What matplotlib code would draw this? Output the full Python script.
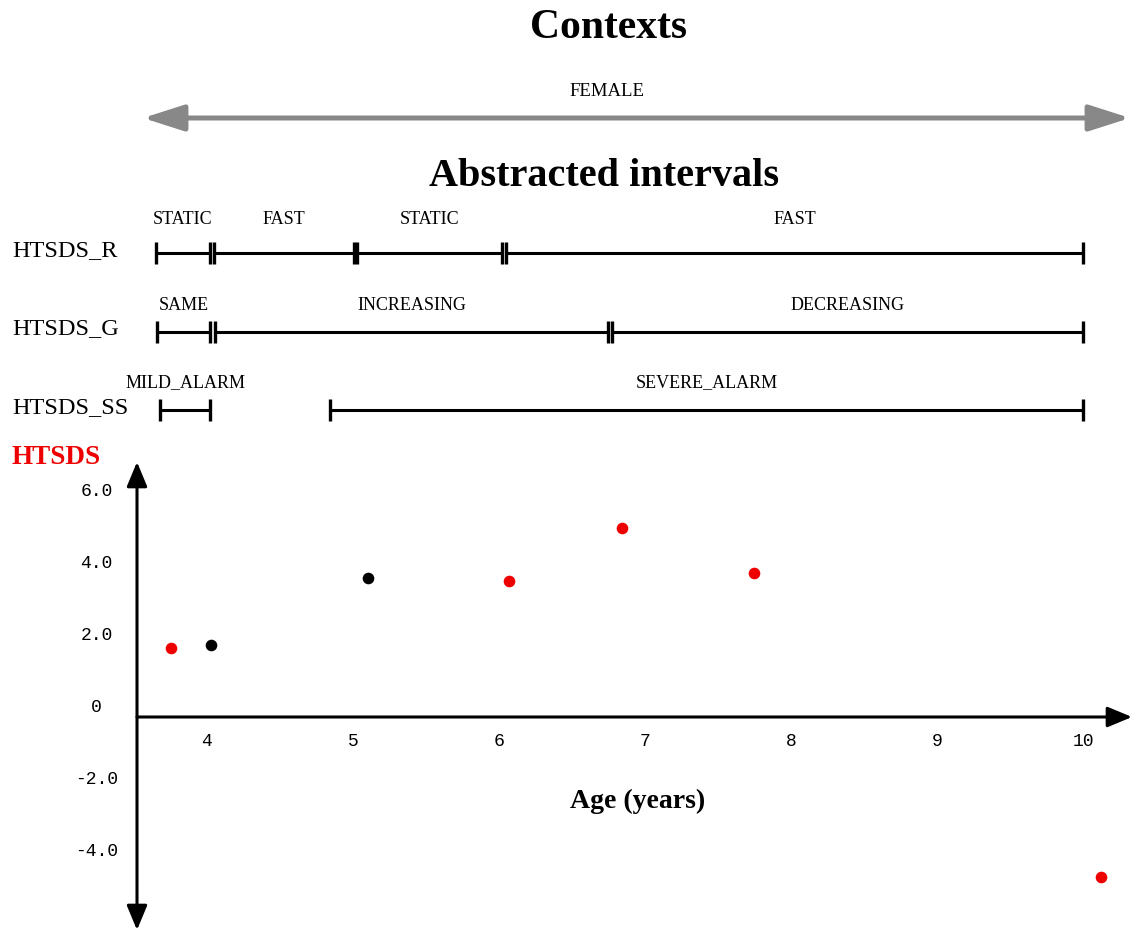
import matplotlib.pyplot as plt
from matplotlib.patches import FancyArrowPatch

plt.rcParams['font.family'] = ['Liberation Serif', 'DejaVu Serif']

# measured HTSDS values (red) and other observations (black)
ages_red = [3.75, 6.07, 6.84, 7.75, 10.12]
htsds_red = [1.92, 3.78, 5.25, 4.0, -4.44]
ages_black = [4.03, 5.10]
htsds_black = [2.0, 3.86]

x_ticks = [4, 5, 6, 7, 8, 9, 10]
y_ticks = [-4.0, -2.0, 0, 2.0, 4.0, 6.0]
y_tick_labels = ['-4.0', '-2.0', '0', '2.0', '4.0', '6.0']

# abstracted intervals (start age, end age, state)
row_names = ['HTSDS_R', 'HTSDS_G', 'HTSDS_SS']
r_start = [3.65, 4.05, 5.025, 6.05]
r_end = [4.02, 5.01, 6.02, 10.0]
r_state = ['STATIC', 'FAST', 'STATIC', 'FAST']
g_start = [3.66, 4.055, 6.774]
g_end = [4.02, 6.747, 10.0]
g_state = ['SAME', 'INCREASING', 'DECREASING']
ss_start = [3.68, 4.84]
ss_end = [4.02, 10.0]
ss_state = ['MILD_ALARM', 'SEVERE_ALARM']

context_name = 'FEMALE'

W, H = 1132, 930
fig = plt.figure(figsize=(W / 100, H / 100), dpi=100)

xlim = (4 - 70 / 146, 4 + 925 / 146)

# titles and context
fig.text(608 / W, 1 - 28 / H, 'Contexts', ha='center', va='center',
         fontsize=30, fontweight='bold')
fig.text(607 / W, 1 - 92 / H, context_name, ha='center', va='center', fontsize=13.5)
fig.add_artist(FancyArrowPatch(
    (143 / W, 1 - 118 / H), (1130 / W, 1 - 118 / H), transform=fig.transFigure,
    arrowstyle='<|-|>,head_length=1.0,head_width=0.32', mutation_scale=25,
    color='#888888', lw=3.6, shrinkA=0, shrinkB=0))
fig.text(604 / W, 1 - 176 / H, 'Abstracted intervals', ha='center', va='center',
         fontsize=29, fontweight='bold')

# interval rows
axi = fig.add_axes([137 / W, 1 - 440 / H, 995 / W, 240 / H])
axi.set_xlim(*xlim)
axi.set_ylim(-2.382, 0.675)
axi.axis('off')

rows = [(r_start, r_end, r_state), (g_start, g_end, g_state), (ss_start, ss_end, ss_state)]
label_offsets = [24, 19, 20]
for i, (starts, ends, states) in enumerate(rows):
    y = -i
    axi.annotate(row_names[i], xy=(12 / W, y), xycoords=('figure fraction', 'data'),
                 ha='left', va='center', fontsize=17.5, xytext=(0, 2),
                 textcoords='offset points')
    for s, e, st in zip(starts, ends, states):
        axi.plot([s, e], [y, y], color='black', lw=2.2, solid_capstyle='butt',
                 clip_on=False)
        axi.plot([s, e], [y, y], linestyle='none', marker='|', markersize=16,
                 markeredgewidth=2.4, color='black', clip_on=False)
        axi.annotate(st, xy=((s + e) / 2, y), xytext=(0, label_offsets[i]),
                     textcoords='offset points', ha='center', va='center',
                     fontsize=13)

# HTSDS plot
ax = fig.add_axes([137 / W, 0, 995 / W, 468 / H])
ax.set_xlim(*xlim)
ax.set_ylim((717 - 930) / 36, (717 - 462) / 36)
ax.axis('off')

arrow = dict(arrowstyle='<|-|>,head_length=0.6,head_width=0.25', color='black',
             lw=2.2, mutation_scale=25, shrinkA=0, shrinkB=0)
ax.annotate('', xy=(0, 1), xytext=(0, 0), xycoords='axes fraction', arrowprops=arrow)
ax.annotate('', xy=(1.0, 0), xytext=(0, 0), xycoords=('axes fraction', 'data'),
            arrowprops=dict(arrow, arrowstyle='-|>,head_length=0.6,head_width=0.25'))

mono = ['Liberation Mono', 'DejaVu Sans Mono']
for t in x_ticks:
    ax.annotate(str(t), xy=(t, 0), xytext=(0, -17.5), textcoords='offset points',
                ha='center', va='center', fontsize=13, family=mono)
for v, lab in zip(y_ticks, y_tick_labels):
    ax.annotate(lab, xy=(0, v), xycoords=('axes fraction', 'data'), xytext=(-29, 6.5),
                textcoords='offset points', ha='center', va='center',
                fontsize=13, family=mono)

ax.scatter(ages_red, htsds_red, s=70, color='#ee0000', clip_on=False, zorder=3,
           linewidths=0)
ax.scatter(ages_black, htsds_black, s=70, color='black', clip_on=False, zorder=3,
           linewidths=0)

fig.text(12 / W, 1 - 457 / H, 'HTSDS', ha='left', va='center', color='#ee0000',
         fontsize=19.5, fontweight='bold')
fig.text(638 / W, 1 - 801 / H, 'Age (years)', ha='center', va='center',
         fontsize=20, fontweight='bold')

fig.savefig('out.png', dpi=100)
